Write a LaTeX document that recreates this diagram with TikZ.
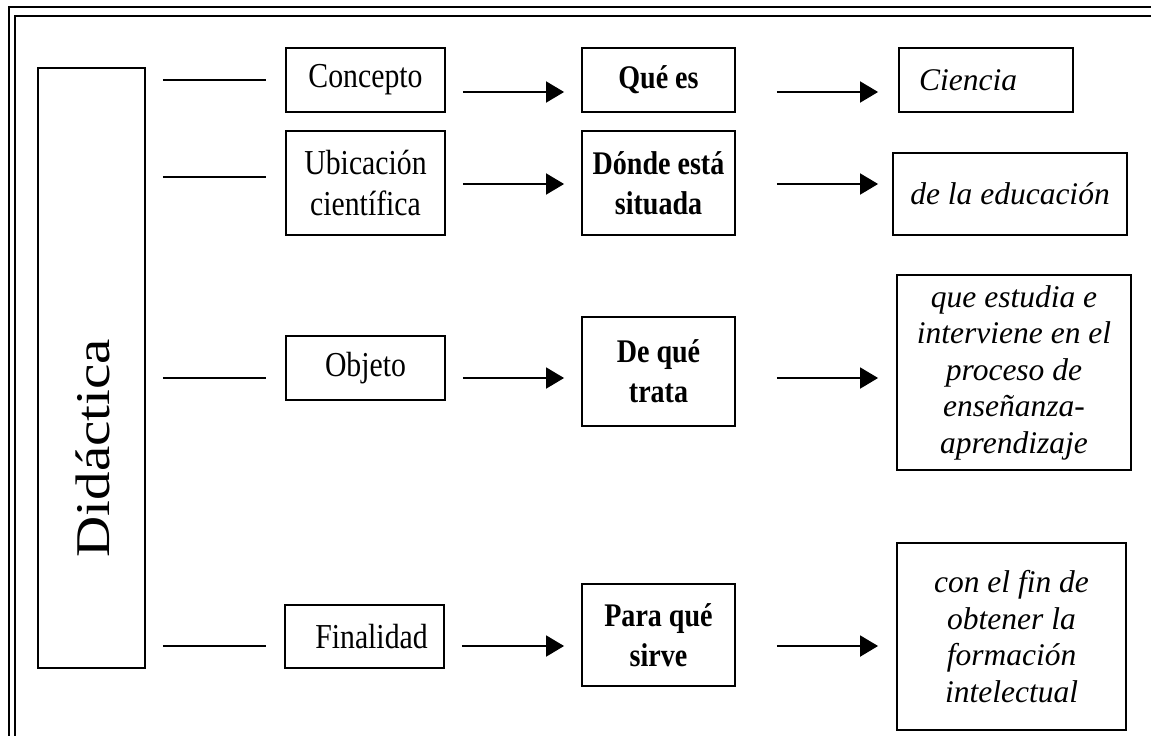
\documentclass[tikz,border=0pt]{standalone}
\usepackage{fontspec}
\setmainfont{Liberation Serif}[FakeStretch=0.85]
\newfontfamily\plainserif{Liberation Serif}
\usetikzlibrary{arrows.meta}
\begin{document}
\begin{tikzpicture}[x=1pt,y=-1pt,
  box/.style={draw, line width=1.9pt, inner sep=0pt, align=center},
  regtext/.style={font=\fontsize{35}{41}\selectfont},
  boldtext/.style={font=\fontsize{33}{40}\selectfont\bfseries},
  ittext/.style={font=\plainserif\itshape\fontsize{31.5}{36.5}\selectfont},
  link/.style={line width=2pt},
  arr/.style={line width=2pt, -{Triangle[length=18pt,width=21pt]}}
]
\useasboundingbox (0,0) rectangle (1151,736);
\begin{scope}
\clip (0,0) rectangle (1151,736);
\draw[line width=1.6pt] (9,7) rectangle (1175,760);
\draw[line width=2pt] (15,16) rectangle (1170,755);
\end{scope}

% Left box
\node[box, minimum width=107pt, minimum height=600pt] (did) at (91.5,368) {};
\node[rotate=90, inner sep=0pt] (didtext) at (93,448)
  {\plainserif\fontsize{57}{60}\selectfont\scalebox{1}[0.85]{Didáctica}};

% Column 1
\node[box, regtext, minimum width=159pt, minimum height=64pt] (c1) at (365.5,80) {Concepto};
\node[box, regtext, minimum width=159pt, minimum height=104pt] (c2) at (365.5,183) {Ubicación\\científica};
\node[box, regtext, minimum width=159pt, minimum height=64pt] (c3) at (365.5,368) {Objeto};
\node[box, regtext, minimum width=159pt, minimum height=63pt] (c4) at (364.5,636.5) {\hspace*{14pt}Finalidad};

% Column 2
\node[box, boldtext, minimum width=153pt, minimum height=64pt] (q1) at (658.5,80) {Qué es};
\node[box, boldtext, minimum width=153pt, minimum height=104pt] (q2) at (658.5,183) {Dónde está\\situada};
\node[box, boldtext, minimum width=153pt, minimum height=109pt] (q3) at (658.5,371.5) {De qué\\trata};
\node[box, boldtext, minimum width=153pt, minimum height=102pt] (q4) at (658.5,635) {Para qué\\sirve};

% Column 3
\node[box, ittext, minimum width=174pt, minimum height=64pt] (r1) at (986,80) {\hspace*{-36pt}Ciencia};
\node[box, ittext, minimum width=234pt, minimum height=82pt] (r2) at (1010,194) {de la educación};
\node[box, ittext, minimum width=234pt, minimum height=195pt] (r3) at (1014,372.5)
  {que estudia e\\interviene en el\\proceso de\\enseñanza-\\aprendizaje};
\node[box, ittext, minimum width=229pt, minimum height=187pt] (r4) at (1011.5,636.5)
  {con el fin de\\obtener la\\formación\\intelectual};

% Row levels
\coordinate (y1) at (0,80);
\coordinate (y2) at (0,177);
\coordinate (y3) at (0,378);
\coordinate (y4) at (0,646);
\coordinate (a1) at (0,92);
\coordinate (a2) at (0,184);
\coordinate (a3) at (0,378);
\coordinate (a4) at (0,646);

% Lines from Didáctica
\draw[link, shorten <=17pt, shorten >=19pt] (did.east |- y1) -- (c1.west |- y1);
\draw[link, shorten <=17pt, shorten >=19pt] (did.east |- y2) -- (c2.west |- y2);
\draw[link, shorten <=17pt, shorten >=19pt] (did.east |- y3) -- (c3.west |- y3);
\draw[link, shorten <=17pt, shorten >=18pt] (did.east |- y4) -- (c4.west |- y4);

% Arrows column 1 -> 2
\draw[arr, shorten <=17pt, shorten >=17pt] (c1.east |- a1) -- (q1.west |- a1);
\draw[arr, shorten <=17pt, shorten >=17pt] (c2.east |- a2) -- (q2.west |- a2);
\draw[arr, shorten <=17pt, shorten >=17pt] (c3.east |- a3) -- (q3.west |- a3);
\draw[arr, shorten <=17pt, shorten >=17pt] (c4.east |- a4) -- (q4.west |- a4);

% Arrows column 2 -> 3
\draw[arr, shorten <=41pt, shorten >=20pt] (q1.east |- a1) -- (r1.west |- a1);
\draw[arr, shorten <=41pt, shorten >=14pt] (q2.east |- a2) -- (r2.west |- a2);
\draw[arr, shorten <=41pt, shorten >=18pt] (q3.east |- a3) -- (r3.west |- a3);
\draw[arr, shorten <=41pt, shorten >=18pt] (q4.east |- a4) -- (r4.west |- a4);
\end{tikzpicture}
\end{document}
